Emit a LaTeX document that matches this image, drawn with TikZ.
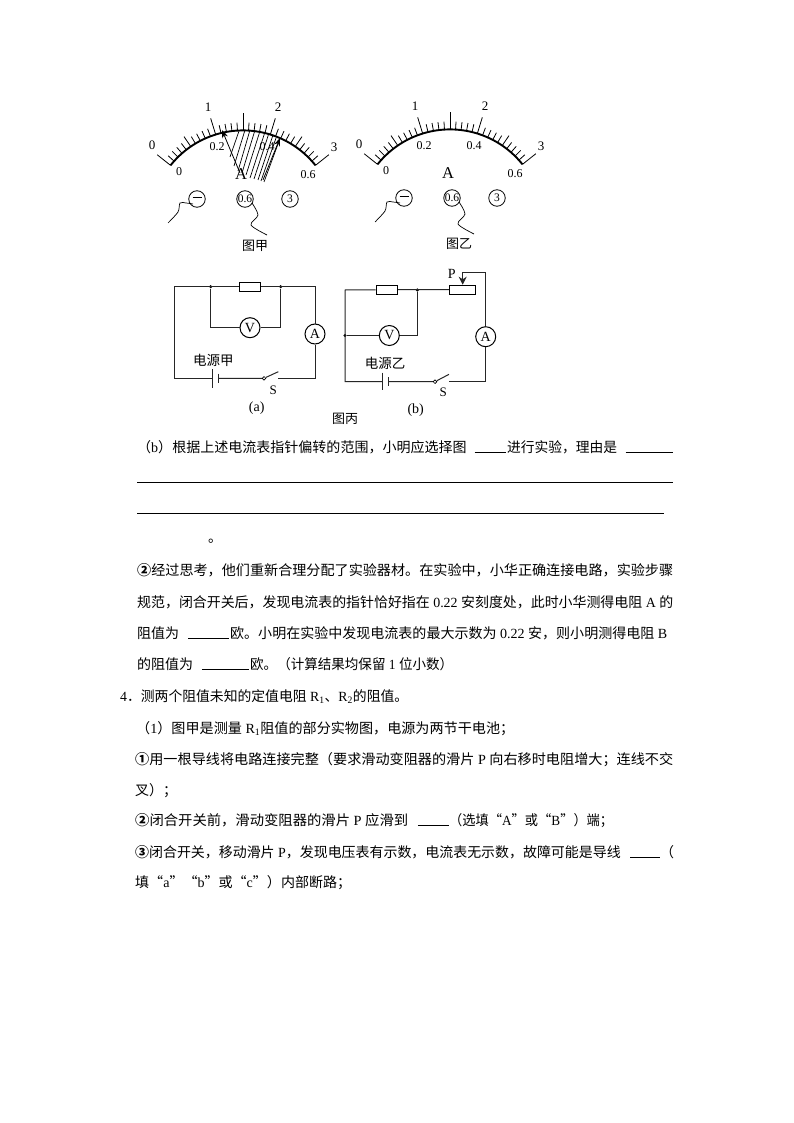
\documentclass[tikz,border=0pt]{standalone}
\usepackage{graphicx}
\usepackage{fontspec}
\setmainfont{Liberation Serif}
\newfontfamily\cjk{Noto Sans CJK SC}
\usetikzlibrary{arrows.meta}
\newcommand{\zh}[1]{{\cjk #1}}
\newcommand{\fitline}[2]{\resizebox{#1pt}{\height}{#2}}
\newcommand{\circnum}[1]{{\cjk\bfseries #1}}

\tikzset{
    wire/.style={line width=1pt, black!85},
    rulez/.style={line width=0.8pt},
    gauge/.style={circle, draw, line width=1pt, fill=white, minimum size=20pt, inner sep=0pt, font=\fontsize{14}{14}\selectfont},
    post/.style={circle, draw, line width=0.8pt, minimum size=16.5pt, inner sep=0pt, font=\fontsize{11.5}{11.5}\selectfont},
    res/.style={rectangle, draw, line width=1pt, fill=white, minimum width=21.5pt, minimum height=9pt, inner sep=0pt},
    joint/.style={circle, fill=black, minimum size=3.4pt, inner sep=0pt},
    swdot/.style={circle, draw, line width=0.7pt, fill=white, minimum size=3.6pt, inner sep=0pt},
    lab/.style={inner sep=0pt, font=\fontsize{12}{12}\selectfont},
    bigl/.style={inner sep=0pt, font=\fontsize{13}{13}\selectfont},
    figcap/.style={inner sep=0pt, font=\fontsize{13}{14}\selectfont\cjk},
    para/.style={anchor=base west, inner sep=0pt, font=\fontsize{14}{15}\selectfont},
    meter/.pic={
        \draw[line width=1.9pt] plot[domain=-51.5:51.5, samples=40, smooth] ({92.6*sin(\x)}, {-92.6*cos(\x)});
        \foreach \tick in {0,...,30} {
            \pgfmathsetmacro{\ang}{-51.5+103*\tick/30}
            \pgfmathsetmacro{\len}{ifthenelse(mod(\tick,10)==0 || \tick==15, 17, ifthenelse(mod(\tick,5)==0, 12, 8))}
            \draw[line width=0.8pt] ({92.6*sin(\ang)}, {-92.6*cos(\ang)}) -- ({(92.6+\len)*sin(\ang)}, {-(92.6+\len)*cos(\ang)});
        }
        \node[bigl] (-a0) at (-91,-78) {0};
        \node[bigl] (-a1) at (-35,-116) {1};
        \node[bigl] (-a2) at (35,-116) {2};
        \node[bigl] (-a3) at (91,-76) {3};
        \node[lab] (-b0) at (-64,-51) {0};
        \node[lab] (-b1) at (-26,-76) {0.2};
        \node[lab] (-b2) at (24,-76) {0.4};
        \node[lab] (-b3) at (65,-48) {0.6};
        \node[lab, font=\fontsize{16.5}{16.5}\selectfont] (-unit) at (-2,-49) {A};
        \node[post] (-neg) at (-46,-24) {\rule[2.5pt]{9pt}{1pt}};
        \node[post] (-mid) at (2,-24) {0.6};
        \node[post] (-pos) at (47,-24) {3};
        \draw[line width=0.7pt] plot[smooth] coordinates {(-50,-19) (-57,-20) (-63,-20) (-65,-11) (-75,0)};
        \draw[line width=0.7pt] plot[smooth] coordinates {(9,-20) (15,-8) (8,2) (24,12)};
    }
}

\begin{document}
\begin{tikzpicture}[x=1pt, y=-1pt]
    \useasboundingbox[fill=white] (0,0) rectangle (794,1123);

    \pic (ma) at (243,223) {meter};
    \pic (mb) at (450,222) {meter};

    \coordinate (N1) at (240,173);
    \coordinate (T1) at (222,130);
    \coordinate (N2) at (263,180);
    \coordinate (T2) at (280,138);
    \draw[line width=0.8pt, -{Stealth[length=8pt, width=6pt]}] (N1) -- (T1);
    \draw[line width=0.8pt, -{Stealth[length=8pt, width=6pt]}] (N2) -- (T2);
    \foreach \xa/\ya/\xb/\yb in {
            230/157/239/131, 234/166/245/130, 238/171/250/130, 242/173/255/130, 246/175/260/131,
            250/178/265/132, 254/179/269/133, 258/180/273/135, 261/181/276/138, 264/182/278/144} {
            \draw[line width=0.7pt] (\xa,\ya) -- (\xb,\yb);
        }

    \node[figcap] (capa) at (255,246) {图甲};
    \node[figcap] (capb) at (459,244) {图乙};

    \coordinate (TLa) at (174.3,286.7);
    \coordinate (TRa) at (315,286.7);
    \coordinate (BLa) at (174.3,378.3);
    \coordinate (BRa) at (315,378.3);
    \coordinate (Ea1) at (212.3,378.3);
    \coordinate (Ea2) at (218.3,378.3);
    \coordinate (SOa) at (278.3,378.3);
    \coordinate (SBa) at (278.3,371.7);
    \node[res] (Ra) at (250,286.7) {};
    \node[joint] (Ja) at (210.7,286.7) {};
    \node[joint] (Jb) at (280.7,286.7) {};
    \node[gauge] (Va) at (250,327.7) {V};
    \node[gauge] (Aa) at (315,334) {A};
    \node[swdot] (Sa) at (264,378.3) {};
    \draw[wire] (Ea1) -- (BLa) -- (TLa) -- (Ra) -- (TRa) -- (Aa) -- (BRa) -- (SOa);
    \draw[wire] (Ea2) -- (Sa) -- (SBa);
    \draw[wire] (Ja) |- (Va);
    \draw[wire] (Jb) |- (Va);
    \draw[wire] (Ea1) +(0,-9.2) -- +(0,9.2);
    \draw[wire, line width=1.4pt] (Ea2) +(0,-4.7) -- +(0,4.7);
    \node[figcap, font=\fontsize{13.5}{14}\selectfont\cjk] (ea) at (213.3,360) {电源甲};
    \node[bigl] (la) at (273.3,390) {S};
    \node[bigl, font=\fontsize{14}{14}\selectfont] (na) at (256.7,408) {(a)};

    \coordinate (TLb) at (345,290);
    \coordinate (TRb) at (485.7,272.3);
    \coordinate (TPb) at (462.7,272.3);
    \coordinate (BLb) at (345,381.7);
    \coordinate (BRb) at (485.7,381.7);
    \coordinate (Eb1) at (382.3,381.7);
    \coordinate (Eb2) at (388.3,381.7);
    \coordinate (SOb) at (449,381.7);
    \coordinate (SBb) at (449,374.3);
    \node[res] (Rb) at (386.8,289.7) {};
    \node[res, minimum width=26pt] (Pb) at (462.3,289.7) {};
    \node[joint] (Jc) at (417.3,290) {};
    \node[joint] (Jd) at (345,335.5) {};
    \node[gauge] (Vb) at (389.3,335.5) {V};
    \node[gauge] (Ab) at (485.7,336.7) {A};
    \node[swdot] (Sb) at (435,381.7) {};
    \draw[wire] (Eb1) -- (BLb) -- (TLb) -- (Rb) -- (Pb);
    \draw[wire] (SOb) -- (BRb) -- (Ab) -- (TRb) -- (TPb);
    \draw[wire, -{Stealth[length=8pt, width=8pt]}] (TPb) -- (Pb.north -| TPb);
    \draw[wire] (Eb2) -- (Sb) -- (SBb);
    \draw[wire] (Jd) -- (Vb);
    \draw[wire] (Jc) |- (Vb);
    \draw[wire] (Eb1) +(0,-9) -- +(0,8.5);
    \draw[wire, line width=1.4pt] (Eb2) +(0,-4.7) -- +(0,4.7);
    \node[bigl, font=\fontsize{14}{14}\selectfont] (pb) at (451.7,274) {P};
    \node[figcap, font=\fontsize{13.5}{14}\selectfont\cjk] (eb) at (385,363.3) {电源乙};
    \node[bigl] (lb) at (443.3,392.7) {S};
    \node[bigl, font=\fontsize{14}{14}\selectfont] (nb) at (415.7,410) {(b)};
    \node[figcap] (capc) at (345,419.3) {图丙};

    \node[para] (l1a) at (137,452) {\fitline{329.5}{\zh{（}b\zh{）根据上述电流表指针偏转的范围，小明应选择图}}};
    \node[para] (l1b) at (507,452) {\fitline{110}{\zh{进行实验，理由是}}};
    \draw[rulez] (474.5,452.5) -- (505.5,452.5);
    \draw[rulez] (625.5,452.5) -- (673,452.5);
    \draw[rulez] (137,482.5) -- (673,482.5);
    \draw[rulez] (137,513.5) -- (664,513.5);
    \node[para] (l2) at (208,542) {\zh{。}};
    \node[para] (l3) at (137,575) {\fitline{536}{\circnum{②}\zh{经过思考，他们重新合理分配了实验器材。在实验中，小华正确连接电路，实验步骤}}};
    \node[para] (l4) at (137,607) {\fitline{536}{\zh{规范，闭合开关后，发现电流表的指针恰好指在} 0.22 \zh{安刻度处，此时小华测得电阻} A \zh{的}}};
    \node[para] (l5a) at (137,638) {\zh{阻值为}};
    \draw[rulez] (188,638.5) -- (229,638.5);
    \node[para] (l5b) at (230,638) {\fitline{437}{\zh{欧。小明在实验中发现电流表的最大示数为} 0.22 \zh{安，则小明测得电阻} B}};
    \node[para] (l6a) at (137,669) {\zh{的阻值为}};
    \draw[rulez] (201.8,669.5) -- (249,669.5);
    \node[para] (l6b) at (250,669) {\fitline{203}{\zh{欧。（计算结果均保留} 1 \zh{位小数）}}};
    \node[para] (l7) at (120,701) {\fitline{288}{4\zh{．测两个阻值未知的定值电阻} R\textsubscript{1}\zh{、}R\textsubscript{2}\zh{的阻值。}}};
    \node[para] (l8) at (136,733) {\fitline{378}{\zh{（}1\zh{）图甲是测量} R\textsubscript{1}\zh{阻值的部分实物图，电源为两节干电池；}}};
    \node[para] (l9) at (135,764) {\fitline{538}{\circnum{①}\zh{用一根导线将电路连接完整（要求滑动变阻器的滑片} P \zh{向右移时电阻增大；连线不交}}};
    \node[para] (l10) at (135,795) {\zh{叉）；}};
    \node[para] (l11a) at (135,825) {\fitline{273}{\circnum{②}\zh{闭合开关前，滑动变阻器的滑片} P \zh{应滑到}}};
    \draw[rulez] (417.8,825.5) -- (448.5,825.5);
    \node[para] (l11b) at (449,825) {\fitline{164}{\zh{（选填“}A\zh{”或“}B\zh{”）端；}}};
    \node[para] (l12a) at (135,857) {\fitline{485.5}{\circnum{③}\zh{闭合开关，移动滑片} P\zh{，发现电压表有示数，电流表无示数，故障可能是导线}}};
    \draw[rulez] (630,857.5) -- (660,857.5);
    \node[para] (l12b) at (660,857) {\zh{（}};
    \node[para] (l13) at (135,887) {\fitline{216}{\zh{填“}a\zh{”“}b\zh{”或“}c\zh{”）内部断路；}}};
\end{tikzpicture}
\end{document}
